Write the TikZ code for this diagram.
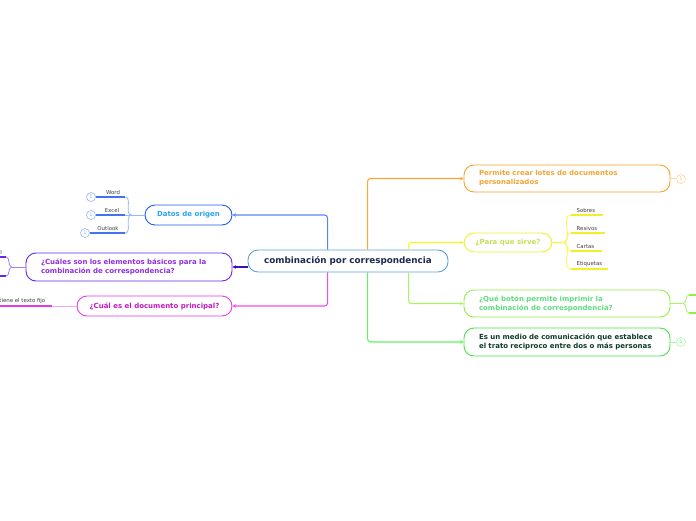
\documentclass[tikz,border=0pt]{standalone}
\usepackage{fontspec}
\setmainfont{DejaVu Sans}
\usetikzlibrary{arrows.meta,calc}
\definecolor{cenB}{HTML}{5BA3DC}
\definecolor{cenT}{HTML}{1B2A4E}
\definecolor{bluB}{HTML}{1F5BEA}
\definecolor{bluT}{HTML}{27A4F2}
\definecolor{bluC}{HTML}{5585F7}
\definecolor{purB}{HTML}{6A26EE}
\definecolor{purT}{HTML}{8E2DE2}
\definecolor{purC}{HTML}{3D0DB8}
\definecolor{pnkB}{HTML}{E43BE4}
\definecolor{pnkT}{HTML}{C21AC2}
\definecolor{pnkC}{HTML}{F24AF2}
\definecolor{orgB}{HTML}{F7A22A}
\definecolor{orgT}{HTML}{F2A535}
\definecolor{orgC}{HTML}{FFA82E}
\definecolor{yelB}{HTML}{F0F02A}
\definecolor{yelT}{HTML}{C9DD55}
\definecolor{yelC}{HTML}{F8F81E}
\definecolor{lgrB}{HTML}{92EE45}
\definecolor{lgrT}{HTML}{5EDD7E}
\definecolor{lgrC}{HTML}{A6F563}
\definecolor{grnB}{HTML}{45E545}
\definecolor{grnT}{HTML}{0D3B28}
\definecolor{grnC}{HTML}{62F262}
\begin{document}
\begin{tikzpicture}[x=1pt,y=-1pt,
 box/.style={draw, line width=0.9pt, rounded corners=10pt, fill=white, inner xsep=15pt, inner ysep=2pt, font=\bfseries\fontsize{7}{9}\selectfont, align=left},
 conn/.style={line width=1.1pt, rounded corners=3pt, -{Stealth[length=3.5pt,width=3.5pt]}},
 leaf/.style={font=\fontsize{5.4}{6}\selectfont, text=black!75, inner sep=0.5pt},
 uline/.style={line width=1.3pt},
 branch/.style={line width=0.8pt},
 num/.style={draw, circle, fill=white, minimum size=9pt, inner sep=0pt, line width=0.6pt, font=\fontsize{5}{5}\selectfont},
]
\useasboundingbox (0,0) rectangle (696,520);
\clip (0,0) rectangle (696,520);

% central
\node[draw=cenB, line width=0.9pt, rounded corners=10pt, fill=white, minimum width=200pt, minimum height=22pt, text=cenT, font=\bfseries\fontsize{8.8}{10}\selectfont] (cen) at (348,261) {combinación por correspondencia};

% left boxes
\node[box, draw=bluB, text=bluT, minimum width=87pt, minimum height=20pt, inner xsep=8pt, align=center] (dat) at (188.5,215) {Datos de origen};
\node[box, draw=purB, text=purT, text width=176pt, minimum height=28pt] (pur) at (129,267) {¿Cuáles son los elementos básicos para la\\combinación de correspondencia?};
\node[box, draw=pnkB, text=pnkT, minimum width=155pt, minimum height=20pt, inner xsep=8pt, align=center] (pnk) at (154.5,306) {¿Cuál es el documento principal?};

% right boxes
\node[box, draw=orgB, text=orgT, text width=176pt, minimum height=27pt] (org) at (567,178.5) {Permite crear lotes de documentos\\personalizados};
\node[box, draw=yelB, text=yelT, minimum width=88pt, minimum height=19pt, inner xsep=8pt, align=center] (yel) at (508,242.5) {¿Para que sirve?};
\node[box, draw=lgrB, text=lgrT, text width=176pt, minimum height=27pt] (lgr) at (567,303.5) {¿Qué botón permite imprimir la\\combinación de correspondencia?};
\node[box, draw=grnB, text=grnT, text width=176pt, minimum height=28pt] (grn) at (567,342) {Es un medio de comunicación que establece\\el trato reciproco entre dos o más personas};

% main connectors
\draw[conn, bluC] ($(cen.north west)+(80,0)$) |- (dat.east);
\draw[conn, purC] (cen.west |- pur.east) -- (pur.east);
\draw[conn, pnkC] ($(cen.south west)+(80,0)$) |- (pnk.east);
\draw[conn, orgC] ($(cen.north west)+(120,0)$) |- (org.west);
\draw[conn, yelC] ($(cen.north west)+(161,0)$) |- (yel.west);
\draw[conn, lgrC] ($(cen.south west)+(161,0)$) |- (lgr.west);
\draw[conn, grnC] ($(cen.south west)+(120,0)$) |- (grn.west);

% Datos de origen children
\coordinate (dj) at ($(dat.west)+(-13,0)$);
\draw[branch, bluC!60] (dat.west) -- (dj);
\coordinate (wR) at (125,197);
\coordinate (eR) at (125,215);
\coordinate (oR) at (125,233);
\node[num, draw=bluC!60, text=bluC!60] (n1) at (91,197) {1};
\node[num, draw=bluC!60, text=bluC!60] (n2) at (91,215) {1};
\node[num, draw=bluC!60, text=bluC!60] (n3) at (85,233) {1};
\draw[branch, bluC!60] (dj) to[out=180,in=0] (wR);
\draw[branch, bluC!60] (dj) to[out=180,in=0] (eR);
\draw[branch, bluC!60] (dj) to[out=180,in=0] (oR);
\draw[uline, bluB!85] (n1.east) -- (wR);
\draw[uline, bluB!85] (n2.east) -- (eR);
\draw[uline, bluB!85] (n3.east) -- (oR);
\node[leaf, anchor=south] (tw) at (113,195.5) {Word};
\node[leaf, anchor=south] (te) at (112,213.5) {Excel};
\node[leaf, anchor=south] (to) at (108,231.5) {Outlook};

% purple children (off the left edge)
\coordinate (pj) at (12,267);
\coordinate (p1R) at (6,257);
\coordinate (p1L) at (-40,257);
\coordinate (p2R) at (6,276);
\coordinate (p2L) at (-40,276);
\draw[branch, purB!60] (pur.west) -- (pj);
\draw[branch, purB!60] (pj) to[out=180,in=0] (p1R);
\draw[branch, purB!60] (pj) to[out=180,in=0] (p2R);
\draw[uline, purB] (p1L) -- (p1R);
\draw[uline, purB] (p2L) -- (p2R);
\node[leaf, anchor=south east] (tp1) at (2.5,255.5) {l};

% pink child
\coordinate (k1R) at (52,306);
\coordinate (k1L) at (-20,306);
\draw[branch, pnkC!50] (pnk.west) -- (k1R);
\draw[uline, pnkB] (k1L) -- (k1R);
\node[leaf, anchor=south east] (tk1) at (46,304.2) {tiene el texto fijo};

% yellow children
\coordinate (yj) at (563,242.5);
\draw[branch, yelC] (yel.east) -- (yj);
\coordinate (s1L) at (571,215); \coordinate (s1R) at (603,215);
\coordinate (s2L) at (571,233); \coordinate (s2R) at (605,233);
\coordinate (s3L) at (571,251); \coordinate (s3R) at (602,251);
\coordinate (s4L) at (571,269); \coordinate (s4R) at (608,269);
\foreach \i in {1,2,3,4}{
  \draw[branch, yelC!80] (yj) to[out=0,in=180] (s\i L);
  \draw[uline, yelB] (s\i L) -- (s\i R);
}
\node[leaf, anchor=south west] (ts1) at (576,213.3) {Sobres};
\node[leaf, anchor=south west] (ts2) at (576,231.3) {Resivos};
\node[leaf, anchor=south west] (ts3) at (576,249.3) {Cartas};
\node[leaf, anchor=south west] (ts4) at (576,267.3) {Etiquetas};

% light green children (off the right edge)
\coordinate (gj) at (683,303.5);
\coordinate (g1L) at (689,295); \coordinate (g1R) at (720,295);
\coordinate (g2L) at (689,313); \coordinate (g2R) at (720,313);
\draw[branch, lgrC] (lgr.east) -- (gj);
\draw[branch, lgrC] (gj) to[out=0,in=180] (g1L);
\draw[branch, lgrC] (gj) to[out=0,in=180] (g2L);
\draw[uline, lgrB] (g1L) -- (g1R);
\draw[uline, lgrB] (g2L) -- (g2R);

% number circles on the right
\node[num, draw=orgC!50, text=orgC!70] (o1) at (681,179) {1};
\draw[branch, orgC!50] (org.east) -- (o1);
\node[num, draw=grnC!55, text=grnC!80] (g6) at (681,342) {6};
\draw[branch, grnC!55] (grn.east) -- (g6);
\end{tikzpicture}
\end{document}
